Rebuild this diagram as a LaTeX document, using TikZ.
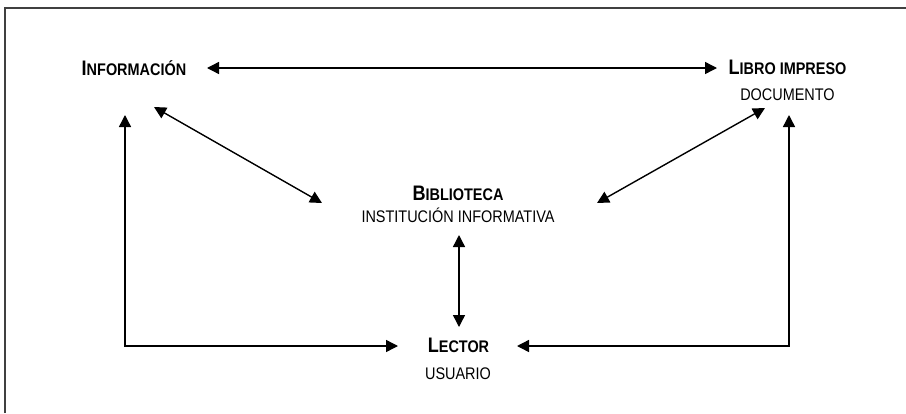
\documentclass[tikz,border=0pt]{standalone}
\usepackage{fontspec}
\newfontfamily\nf[FakeStretch=0.86]{Liberation Sans}
\usetikzlibrary{arrows.meta}
\newcommand{\bigc}[1]{{\fontsize{21}{21}\selectfont #1}}
\newcommand{\smc}[1]{{\fontsize{16.8}{17}\selectfont #1}}
\begin{document}
\begin{tikzpicture}[x=1pt,y=-1pt,
  lbl/.style={anchor=base,inner sep=0pt,font=\nf\fontsize{16.8}{17}\selectfont},
  hd/.style={lbl,font=\nf\bfseries},
  conn/.style={line width=1.4pt,{Triangle[length=12pt,width=12pt]}-{Triangle[length=12pt,width=12pt]}},
  frame/.style={line width=1.8pt,draw=black!75}]
\useasboundingbox[fill=white] (0,0) rectangle (906,413);
\draw[frame] (5,413) -- (5,8) -- (906,8);
\node[hd] (info) at (134,75) {\bigc{I}\smc{NFORMACIÓN}};
\node[hd] (libro) at (787.5,74) {\bigc{L}\smc{IBRO IMPRESO}};
\node[lbl] (docu) at (787.5,100) {DOCUMENTO};
\node[hd] (biblio) at (458,200) {\bigc{B}\smc{IBLIOTECA}};
\node[lbl] (inst) at (458,222) {INSTITUCIÓN INFORMATIVA};
\node[hd] (lector) at (458.5,352) {\bigc{L}\smc{ECTOR}};
\node[lbl] (usuario) at (458,379) {USUARIO};
\draw[conn] ([shift={(73,-7)}]info.base) -- ([shift={(-70.5,-6)}]libro.base);
\draw[conn] ([shift={(20,32)}]info.base) -- ([shift={(-136,3)}]biblio.base);
\draw[conn] ([shift={(-22.5,8)}]docu.base) -- ([shift={(139,3)}]biblio.base);
\draw[conn] ([shift={(1,13)}]inst.base) -- ([shift={(0.5,-25)}]lector.base);
\draw[conn] ([shift={(-9,40)}]info.base) |- ([shift={(-60.5,-6)}]lector.base);
\draw[conn] ([shift={(1.5,15)}]docu.base) |- ([shift={(58.5,-6)}]lector.base);
\end{tikzpicture}
\end{document}
